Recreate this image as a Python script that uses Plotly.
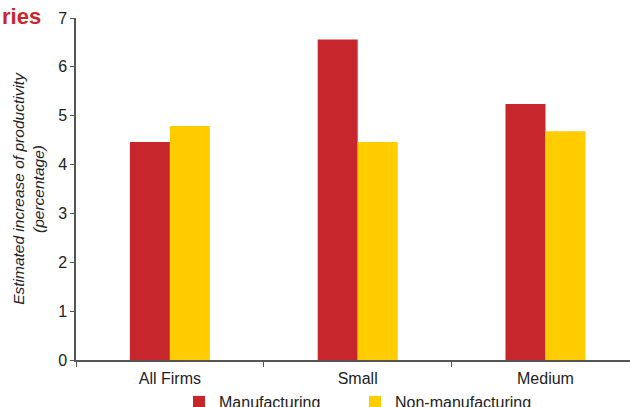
import plotly.graph_objects as go

categories = ["All Firms", "Small", "Medium"]
manufacturing = [4.46, 6.56, 5.24]
non_manufacturing = [4.79, 4.46, 4.68]
y_ticks = [0, 1, 2, 3, 4, 5, 6, 7]

RED = "#C8262D"
YELLOW = "#FFCC00"
FONT = "Liberation Sans, Arial, sans-serif"
AXIS = "#555"

L, T, B = 76, 18, 47
PW, PH = 630 - L, 407 - T - B

fig = go.Figure()
fig.add_trace(go.Bar(x=categories, y=manufacturing, name="Manufacturing",
                     marker=dict(color=RED, line=dict(width=0))))
fig.add_trace(go.Bar(x=categories, y=non_manufacturing, name="Non-manufacturing",
                     marker=dict(color=YELLOW, line=dict(width=0))))

fig.update_layout(
    width=630, height=407,
    margin=dict(l=L, r=0, t=T, b=B, autoexpand=False),
    plot_bgcolor="white", paper_bgcolor="white",
    barmode="group", bargap=0.574, bargroupgap=0,
    font=dict(family=FONT, size=16, color="#222"),
    showlegend=True,
    legend=dict(orientation="h", x=(179 - L) / PW, xanchor="left", y=-25 / PH, yanchor="top",
                entrywidth=131, entrywidthmode="pixels",
                font=dict(size=16, color="#222"), traceorder="normal"),
    xaxis=dict(range=[-0.5, 2.45], showline=True, linecolor=AXIS, linewidth=1.5,
               ticks="outside", tickson="boundaries", ticklen=5, tickcolor=AXIS,
               showgrid=False, tickfont=dict(size=16), automargin=False,
               ticklabelstandoff=3),
    yaxis=dict(range=[0, 7], tickvals=y_ticks, showline=True, linecolor=AXIS, linewidth=1.5,
               ticks="outside", ticklen=4, tickcolor=AXIS, showgrid=False, zeroline=False,
               tickfont=dict(size=16), automargin=False,
               title=dict(text="<i>Estimated increase of productivity<br>(percentage)</i>",
                          font=dict(size=15.5), standoff=10)),
    annotations=[dict(text="<b>ries</b>", xref="paper", yref="paper",
                      x=-L / PW, y=1 + (T - 2) / PH, xanchor="left", yanchor="top",
                      showarrow=False, font=dict(size=22, color=RED, family=FONT))],
)

fig.write_html("out.html", config={"displayModeBar": False},
               post_script="document.body.style.margin = '0px';")
